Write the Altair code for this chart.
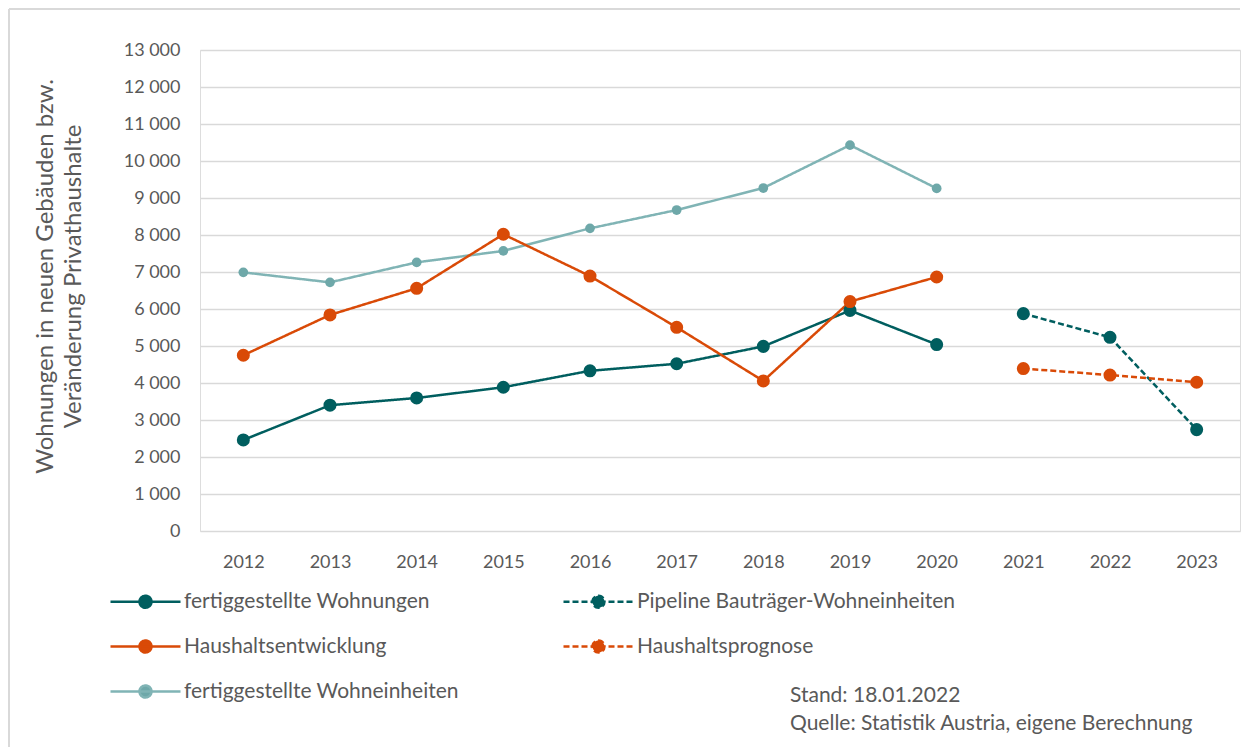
import altair as alt
import pandas as pd

# ---------------- data ----------------
years_hist = ["2012", "2013", "2014", "2015", "2016", "2017", "2018", "2019", "2020"]
years_fc = ["2021", "2022", "2023"]
all_years = years_hist + years_fc

wohnungen = [2460, 3400, 3595, 3885, 4330, 4520, 4990, 5960, 5040]
haushalte = [4750, 5840, 6560, 8020, 6890, 5505, 4055, 6200, 6865]
wohneinheiten = [6990, 6720, 7260, 7570, 8180, 8675, 9270, 10430, 9260]
pipeline = [5875, 5235, 2740]
prognose = [4390, 4215, 4020]

S1 = "fertiggestellte Wohnungen"
S2 = "Pipeline Bauträger-Wohneinheiten"
S3 = "Haushaltsentwicklung"
S4 = "Haushaltsprognose"
S5 = "fertiggestellte Wohneinheiten"
series_order = [S1, S2, S3, S4, S5]

line_colors = ["#005E5F", "#005E5F", "#D94A07", "#D94A07", "#80B4B5"]
fill_colors = ["#005E5F", "#005E5F", "#D94A07", "#D94A07", "#6EA8A9"]
dashes = [[1, 0], [6, 3], [1, 0], [6, 3], [1, 0]]
line_widths = [2.5, 2.5, 2.5, 2.5, 2]

y_title = ["Wohnungen in neuen Gebäuden bzw.", "Veränderung Privathaushalte"]
note_text = "Stand: 18.01.2022\nQuelle: Statistik Austria, eigene Berechnung"

rows = []
for name, yrs, vals in [
    (S5, years_hist, wohneinheiten),
    (S1, years_hist, wohnungen),
    (S2, years_fc, pipeline),
    (S3, years_hist, haushalte),
    (S4, years_fc, prognose),
]:
    for yr, v in zip(yrs, vals):
        rows.append({"Jahr": yr, "Wert": v, "Serie": name})
df = pd.DataFrame(rows)

# ---------------- styling ----------------
FONT = "Lato"
TXT = "#595959"
GRID = "#d9d9d9"

# legend symbol: a line with a dot in the middle
SYMBOL = "M-1,0L6,0M1.9,0A0.6,0.6,0,1,1,3.1,0A0.6,0.6,0,1,1,1.9,0Z"

legend = alt.Legend(
    title=None,
    orient="none",
    legendX=-91,
    legendY=540,
    columns=2,
    direction="horizontal",
    symbolType=SYMBOL,
    symbolSize=400,
    symbolStrokeWidth=2.5,
    labelOffset=52,
    labelFont=FONT,
    labelFontSize=21,
    labelColor=TXT,
    labelLimit=500,
    rowPadding=22,
    columnPadding=99,
)

x_enc = alt.X(
    "Jahr:O",
    scale=alt.Scale(type="point", domain=all_years, padding=0.5),
    axis=alt.Axis(
        title=None,
        labelAngle=0,
        domain=False,
        ticks=False,
        grid=False,
        labelPadding=22,
        labelFont=FONT,
        labelFontSize=18,
        labelColor=TXT,
    ),
)
y_enc = alt.Y(
    "Wert:Q",
    scale=alt.Scale(domain=[0, 13000], nice=False),
    axis=alt.Axis(
        title=y_title,
        values=list(range(0, 13001, 1000)),
        labelExpr="replace(format(datum.value, ','), ',', ' ')",
        domain=False,
        ticks=False,
        tickSize=0,
        grid=True,
        gridColor=GRID,
        gridWidth=1.5,
        labelPadding=20,
        labelFont=FONT,
        labelFontSize=18,
        labelColor=TXT,
        titleFont=FONT,
        titleFontSize=24,
        titleFontWeight="normal",
        titleColor=TXT,
        titlePadding=38,
        titleLineHeight=28,
        titleY=226,
    ),
)

color_enc = alt.Color("Serie:N", scale=alt.Scale(domain=series_order, range=line_colors), legend=legend)
dash_enc = alt.StrokeDash("Serie:N", scale=alt.Scale(domain=series_order, range=dashes), legend=legend)
fill_enc = alt.Fill("Serie:N", scale=alt.Scale(domain=series_order, range=fill_colors), legend=legend)
sw_enc = alt.StrokeWidth("Serie:N", scale=alt.Scale(domain=series_order, range=line_widths), legend=None)

base = alt.Chart(df)

lines = base.mark_line().encode(
    x=x_enc, y=y_enc, color=color_enc, strokeDash=dash_enc, strokeWidth=sw_enc
)
points_light = base.transform_filter(alt.datum.Serie == S5).mark_point(
    filled=True, opacity=1, shape="circle", size=95
).encode(x=x_enc, y=y_enc, fill=fill_enc)
points_main = base.transform_filter(alt.datum.Serie != S5).mark_point(
    filled=True, opacity=1, shape="circle", size=170
).encode(x=x_enc, y=y_enc, fill=fill_enc)

note = alt.Chart(pd.DataFrame({"t": [note_text]})).mark_text(
    align="left", baseline="top", font=FONT, fontSize=21, color=TXT, lineBreak="\n", lineHeight=28
).encode(x=alt.value(590), y=alt.value(635), text="t:N")

frame_df = pd.DataFrame({"a": [0]})
frame_top = alt.Chart(frame_df).mark_rule(color=GRID, strokeWidth=2).encode(
    x=alt.value(-191), x2=alt.value(1040), y=alt.value(-41)
)
frame_left = alt.Chart(frame_df).mark_rule(color=GRID, strokeWidth=2).encode(
    x=alt.value(-191), y=alt.value(-41), y2=alt.value(697)
)

chart = (
    alt.layer(frame_top, frame_left, lines, points_light, points_main, note)
    .properties(width=1040, height=481, padding={"left": 0, "top": 0, "right": 0, "bottom": 0}, background="white")
    .configure_view(stroke=None)
    .configure(font=FONT)
)

chart.save("out.html", embed_options={"renderer": "svg", "actions": False})
